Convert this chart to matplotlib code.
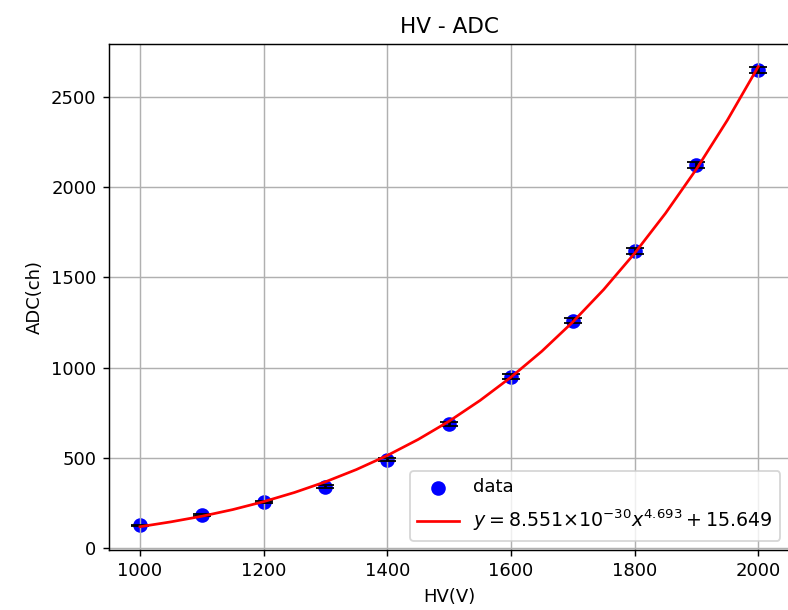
import matplotlib
matplotlib.use('Agg')
from matplotlib import pyplot as plt

# measured points
hv = [1000, 1100, 1200, 1300, 1400, 1500, 1600, 1700, 1800, 1900, 2000]
adc = [125, 185, 255, 340, 490, 685, 950, 1260, 1645, 2125, 2650]
adc_err = [4, 5, 6, 7, 9, 11, 13, 14, 16, 17, 18]

# fit curve
fit_hv = [1000, 1050, 1100, 1150, 1200, 1250, 1300, 1350, 1400, 1450, 1500,
          1550, 1600, 1650, 1700, 1750, 1800, 1850, 1900, 1950, 2000]
fit_adc = [118, 145, 176, 213, 257, 308, 367, 435, 513, 602, 703,
           818, 947, 1091, 1253, 1433, 1634, 1856, 2101, 2372, 2669]
fit_label = r'$y=8.551{\times}10^{-30}x^{4.693}+15.649$'

fig = plt.figure(figsize=(788 / 130, 610 / 130), dpi=130)
ax = fig.add_axes([0.1384, 0.0988, 1.0015 - 0.1384, 0.9285 - 0.0988])

ax.scatter(hv, adc, color='blue', s=50, label='data')
ax.errorbar(hv, adc, yerr=adc_err, fmt='none', ecolor='black', capsize=5)
ax.plot(fit_hv, fit_adc, color='red', label=fit_label)

ax.set_title('HV - ADC', fontsize=12)
ax.set_xlabel('HV(V)')
ax.set_ylabel('ADC(ch)')
ax.grid()
leg = ax.legend(loc='lower right', handlelength=2.3, labelspacing=0.65)
leg.get_texts()[1].set_fontsize(10.5)
ax.spines['right'].set_visible(False)

fig.savefig('out.png', dpi=130)
